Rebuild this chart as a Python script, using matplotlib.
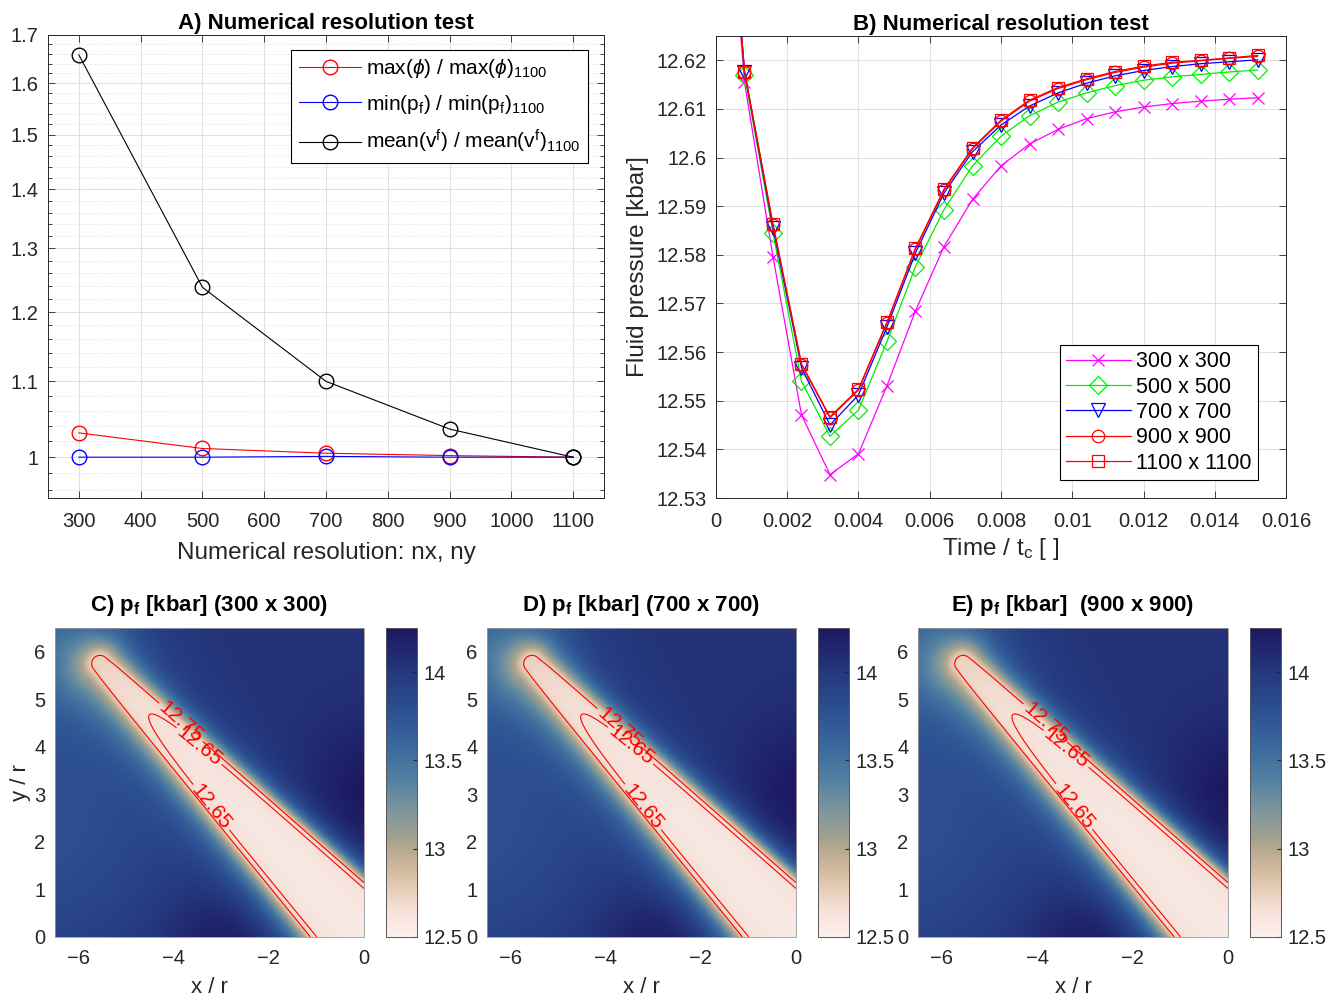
import numpy as np
import matplotlib
matplotlib.use('Agg')
import matplotlib.pyplot as plt
from matplotlib.colors import LinearSegmentedColormap
from matplotlib.ticker import FixedLocator, NullFormatter

plt.rcParams['font.family'] = ['Liberation Sans', 'DejaVu Sans']
plt.rcParams['mathtext.fontset'] = 'custom'
plt.rcParams['mathtext.rm'] = 'Liberation Sans'
plt.rcParams['mathtext.it'] = 'Liberation Sans:italic'
plt.rcParams['mathtext.bf'] = 'Liberation Sans:bold'

AX_COLOR = '#262626'
GRID_COLOR = '#e0e0e0'
TICK_SIZE = 14.5

# ---- A) normalised quantities against grid size ----
nx_res = [300, 500, 700, 900, 1100]
max_phi = [1.031, 1.011, 1.005, 1.002, 1.0]
min_pf = [1.0, 1.0, 1.001, 1.0, 1.0]
mean_vf = [1.658, 1.238, 1.100, 1.036, 1.0]
a_xticks = [300, 400, 500, 600, 700, 800, 900, 1000, 1100]
a_yticks = [1.0, 1.1, 1.2, 1.3, 1.4, 1.5, 1.6, 1.7]
a_yticklabels = ['1', '1.1', '1.2', '1.3', '1.4', '1.5', '1.6', '1.7']

# ---- B) fluid pressure over time ----
time = [0.0, 0.0008, 0.0016, 0.0024, 0.0032, 0.0040, 0.0048, 0.0056, 0.0064,
        0.0072, 0.0080, 0.0088, 0.0096, 0.0104, 0.0112, 0.0120, 0.0128,
        0.0136, 0.0144, 0.0152]
pf_300 = [12.689, 12.6155, 12.5796, 12.5471, 12.5348, 12.5391, 12.5531,
          12.5685, 12.5817, 12.5914, 12.5983, 12.6028, 12.6058, 12.6080,
          12.6094, 12.6104, 12.6111, 12.6116, 12.6120, 12.6123]
pf_500 = [12.690, 12.6170, 12.5845, 12.5540, 12.5427, 12.5481, 12.5622,
          12.5776, 12.5893, 12.5983, 12.6044, 12.6086, 12.6114, 12.6133,
          12.6148, 12.6159, 12.6166, 12.6171, 12.6176, 12.6180]
pf_700 = [12.690, 12.6177, 12.5855, 12.5568, 12.5450, 12.5512, 12.5652,
          12.5804, 12.5927, 12.6012, 12.6067, 12.6106, 12.6133, 12.6153,
          12.6168, 12.6179, 12.6187, 12.6193, 12.6197, 12.6201]
pf_900 = [12.690, 12.6177, 12.5862, 12.5574, 12.5465, 12.5522, 12.5660,
          12.5812, 12.5933, 12.6018, 12.6075, 12.6116, 12.6142, 12.6160,
          12.6175, 12.6186, 12.6194, 12.6199, 12.6204, 12.6208]
pf_1100 = [12.690, 12.6177, 12.5863, 12.5576, 12.5467, 12.5524, 12.5662,
           12.5814, 12.5935, 12.6020, 12.6077, 12.6118, 12.6144, 12.6162,
           12.6177, 12.6188, 12.6196, 12.6200, 12.6205, 12.6210]
b_xticks = [0, 0.002, 0.004, 0.006, 0.008, 0.010, 0.012, 0.014, 0.016]
b_xticklabels = ['0', '0.002', '0.004', '0.006', '0.008', '0.01', '0.012',
                 '0.014', '0.016']
b_yticks = [12.53, 12.54, 12.55, 12.56, 12.57, 12.58, 12.59, 12.60, 12.61, 12.62]
b_yticklabels = ['12.53', '12.54', '12.55', '12.56', '12.57', '12.58',
                 '12.59', '12.6', '12.61', '12.62']

# ---- C-E) fluid pressure maps ----
map_res = [300, 700, 900]
map_titles = [r'C) p$_{\mathbf{f}}$ [kbar] (300 x 300)',
              r'D) p$_{\mathbf{f}}$ [kbar] (700 x 700)',
              r'E) p$_{\mathbf{f}}$ [kbar]  (900 x 900)']
level_outer = 12.75
level_inner = 12.65
label_pos_outer = [(-3.80, 4.57), (-3.67, 4.46), (-3.77, 4.57)]
label_pos_inner = [[(-3.50, 3.98), (-3.20, 2.74)],
                   [(-3.53, 3.97), (-3.25, 2.71)],
                   [(-3.44, 3.90), (-3.23, 2.74)]]
x_range = (-6.5, 0.0)
y_range = (0.0, 6.5)
p_lim = (12.5, 14.25)
cbar_ticks = [12.5, 13.0, 13.5, 14.0]
cbar_ticklabels = ['12.5', '13', '13.5', '14']

# shape of the low-pressure band
band_tip = (-5.55, 5.75)
band_angle = -46.0
band_w0 = 0.21
band_spread = 0.084
core_p = 12.565
tip_excess = 0.165
core_decay = 2.25
edge_rise = 0.105
halo_up = 0.20
halo_low = 0.34
far_base = 14.05
# (x0, y0, sigma, amplitude) of smooth background variations
far_bumps = [(-2.9, -0.3, 0.95, 0.2), (0.3, 3.0, 1.05, 0.2),
             (-6.9, 2.5, 2.2, -0.27), (-6.6, 6.8, 1.3, -0.3)]

cmap_colors = ['#fcf0f1', '#f3ddd1', '#d9bea3', '#aca48d', '#81979a',
               '#5683a2', '#3d6c9e', '#2e5293', '#253a80', '#1c1760']
cmap_pos = [0.0, 0.1, 0.2, 0.3, 0.4, 0.5, 0.6, 0.72, 0.85, 1.0]
pf_cmap = LinearSegmentedColormap.from_list('pf', list(zip(cmap_pos, cmap_colors)))


def pf_field(n):
    x = np.linspace(x_range[0], x_range[1], n)
    y = np.linspace(y_range[0], y_range[1], n)
    X, Y = np.meshgrid(x, y)
    ang = np.deg2rad(band_angle)
    ux, uy = np.cos(ang), np.sin(ang)
    dx, dy = X - band_tip[0], Y - band_tip[1]
    s = dx * ux + dy * uy
    d = -dx * uy + dy * ux
    sp = np.maximum(s, 0)
    r = np.sqrt(d ** 2 + np.minimum(s, 0) ** 2)
    w = band_w0 + band_spread * sp
    rise = edge_rise * (1 - np.exp(-sp / 2.5))
    inner = core_p + tip_excess * np.exp(-sp / core_decay) + rise * np.clip(r / w, 0, 1) ** 2
    dd = r - w
    dd_s = 0.03 * np.logaddexp(0, dd / 0.03)
    side = 1 / (1 + np.exp(-d / 0.25))
    halo = (halo_low + (halo_up - halo_low) * side) * (1 + 0.7 * np.exp(-sp / 1.2))
    far = np.full_like(X, far_base)
    for x0, y0, sig, amp in far_bumps:
        far += amp * np.exp(-((X - x0) ** 2 + (Y - y0) ** 2) / (2 * sig ** 2))
    P = far - (far - inner) * np.exp(-dd_s / halo)
    return x, y, P


def style_axes(ax):
    ax.tick_params(which='both', direction='in', top=True, right=True,
                   colors=AX_COLOR, labelsize=TICK_SIZE, width=0.6)
    ax.tick_params(which='major', length=5)
    ax.tick_params(which='minor', length=3)
    ax.tick_params(axis='x', which='major', pad=10)
    ax.tick_params(axis='y', which='major', pad=7)
    for sp in ax.spines.values():
        sp.set_color(AX_COLOR)
        sp.set_linewidth(0.7)


fig = plt.figure(figsize=(13.38, 9.99), dpi=100)
W, H = 1338.0, 999.0


def px_axes(l, t, r, b):
    return fig.add_axes([l / W, 1 - b / H, (r - l) / W, (b - t) / H])


# ---- panel A ----
axA = px_axes(48, 35, 604, 498)
axA.set_yscale('log')
axA.plot(nx_res, max_phi, '-o', color='r', mfc='none', ms=10.5, lw=0.8,
         label=r'max($\phi$) / max($\phi$)$_{1100}$')
axA.plot(nx_res, min_pf, '-o', color='b', mfc='none', ms=10.5, lw=0.8,
         label=r'min(p$_\mathrm{f}$) / min(p$_\mathrm{f}$)$_{1100}$')
axA.plot(nx_res, mean_vf, '-o', color='k', mfc='none', ms=10.5, lw=0.8,
         label=r'mean(v$^\mathrm{f}$) / mean(v$^\mathrm{f}$)$_{1100}$')
axA.set_xlim(250, 1150)
axA.set_ylim(0.95, 1.7)
axA.set_xticks(a_xticks)
axA.yaxis.set_major_locator(FixedLocator(a_yticks))
axA.set_yticklabels(a_yticklabels)
axA.yaxis.set_minor_locator(FixedLocator(np.arange(0.96, 1.70, 0.02)))
axA.yaxis.set_minor_formatter(NullFormatter())
axA.xaxis.set_minor_locator(FixedLocator([]))
axA.grid(True, which='major', color=GRID_COLOR, lw=0.8)
axA.grid(True, which='minor', axis='y', color=GRID_COLOR, lw=0.7, ls=':')
axA.set_axisbelow(True)
style_axes(axA)
axA.set_xlabel('Numerical resolution: nx, ny', fontsize=17.5, color=AX_COLOR, labelpad=8)
axA.set_title('A) Numerical resolution test', fontsize=16, fontweight='bold', pad=4)
legA = axA.legend(loc='upper right', bbox_to_anchor=(0.971, 0.968), borderaxespad=0,
                  fontsize=15, handlelength=3.0, fancybox=False, framealpha=1,
                  edgecolor='k', labelspacing=0.6, borderpad=0.35, handletextpad=0.25)
legA.get_frame().set_linewidth(0.8)

# ---- panel B ----
axB = px_axes(716, 36, 1286, 498)
series_b = [(pf_300, '#ff00ff', 'x', 8.5, '300 x 300'),
            (pf_500, '#00ee00', 'D', 9.5, '500 x 500'),
            (pf_700, '#0000ff', 'v', 9.5, '700 x 700'),
            (pf_900, '#ff0000', 'o', 9.0, '900 x 900'),
            (pf_1100, '#ff0000', 's', 8.5, '1100 x 1100')]
for vals, col, mk, ms, lab in series_b:
    axB.plot(time, vals, '-', marker=mk, color=col, mfc='none', ms=ms, mew=0.9,
             lw=0.9, label=lab)
axB.set_xlim(0, 0.016)
axB.set_ylim(12.53, 12.625)
axB.set_xticks(b_xticks)
axB.set_xticklabels(b_xticklabels)
axB.set_yticks(b_yticks)
axB.set_yticklabels(b_yticklabels)
axB.grid(True, color=GRID_COLOR, lw=0.8)
axB.set_axisbelow(True)
style_axes(axB)
axB.set_xlabel(r'Time / t$_\mathrm{c}$ [ ]', fontsize=17.5, color=AX_COLOR, labelpad=4)
axB.set_ylabel('Fluid pressure [kbar]', fontsize=17.5, color=AX_COLOR, labelpad=5)
axB.set_title('B) Numerical resolution test', fontsize=16, fontweight='bold', pad=4)
legB = axB.legend(loc='lower right', bbox_to_anchor=(0.951, 0.039), borderaxespad=0,
                  fontsize=15.5, handlelength=3.0, fancybox=False, framealpha=1,
                  edgecolor='k', labelspacing=0.2, borderpad=0.3, handletextpad=0.25)
legB.get_frame().set_linewidth(0.8)

# ---- panels C-E ----
map_boxes = [(55, 364, 386, 417), (487, 796, 818, 849), (918, 1228, 1250, 1281)]
for i, (l, r, cl, cr) in enumerate(map_boxes):
    ax = px_axes(l, 628, r, 937)
    cax = px_axes(cl, 628, cr, 937)
    x, y, P = pf_field(map_res[i])
    im = ax.imshow(P, origin='lower', extent=(x_range[0], x_range[1], y_range[0], y_range[1]),
                   cmap=pf_cmap, vmin=p_lim[0], vmax=p_lim[1], aspect='auto',
                   interpolation='bilinear')
    cs_out = ax.contour(x, y, P, levels=[level_outer], colors='red', linewidths=0.8)
    cs_in = ax.contour(x, y, P, levels=[level_inner], colors='red', linewidths=0.8)
    ax.clabel(cs_out, manual=[label_pos_outer[i]], fmt='%.2f',
              fontsize=15, inline=True, inline_spacing=3)
    ax.clabel(cs_in, manual=label_pos_inner[i], fmt='%.2f',
              fontsize=15, inline=True, inline_spacing=3)
    ax.set_xlim(*x_range)
    ax.set_ylim(*y_range)
    ax.set_xticks([-6, -4, -2, 0])
    ax.set_yticks([0, 1, 2, 3, 4, 5, 6])
    ax.tick_params(axis='x', direction='out', length=0, labelsize=TICK_SIZE,
                   colors=AX_COLOR, pad=9)
    ax.tick_params(axis='y', direction='out', length=0, labelsize=TICK_SIZE,
                   colors=AX_COLOR, pad=7)
    for sp in ax.spines.values():
        sp.set_color('#9a9a9a')
        sp.set_linewidth(0.6)
    ax.set_xlabel('x / r', fontsize=16, color=AX_COLOR, labelpad=6)
    if i == 0:
        ax.set_ylabel('y / r', fontsize=16, color=AX_COLOR, labelpad=2)
    ax.set_title(map_titles[i], fontsize=16, fontweight='bold', pad=12)

    cb = fig.colorbar(im, cax=cax, ticks=cbar_ticks)
    cb.ax.set_yticklabels(cbar_ticklabels)
    cb.ax.tick_params(direction='in', length=3, labelsize=TICK_SIZE, colors=AX_COLOR, pad=5)
    cb.outline.set_edgecolor('#555555')
    cb.outline.set_linewidth(0.7)

fig.savefig('out.png', dpi=100)
